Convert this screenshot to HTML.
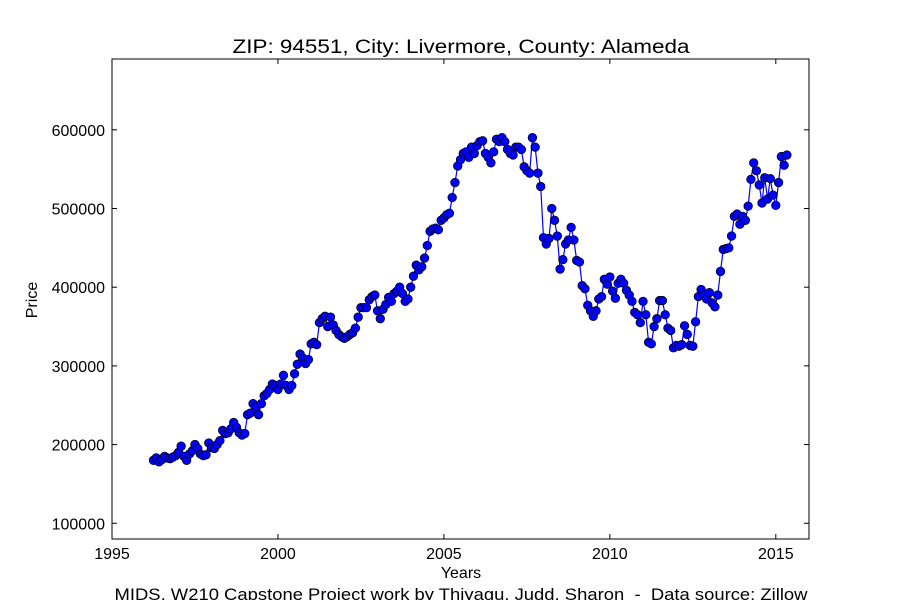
<!DOCTYPE html>
<html><head><meta charset="utf-8"><style>
body{margin:0;background:#fff;font-family:"Liberation Sans",sans-serif}
svg text{font-family:"Liberation Sans",sans-serif;fill:#000}
</style></head><body>
<svg id="chart" width="900" height="600" xmlns="http://www.w3.org/2000/svg">
<rect width="900" height="600" fill="#fff"/>
<text x="461" y="53" font-size="19" text-anchor="middle" textLength="457" lengthAdjust="spacingAndGlyphs">ZIP: 94551, City: Livermore, County: Alameda</text>
<g id="plot"></g>
<rect x="112" y="59" width="697" height="480" fill="none" stroke="#000" stroke-width="1"/>
<g id="axes"></g>
<text x="461" y="578" font-size="16" text-anchor="middle">Years</text>
<text x="37" y="300" font-size="16" text-anchor="middle" transform="rotate(-90 37 300)">Price</text>
<text x="461" y="600" font-size="17" text-anchor="middle" textLength="693" lengthAdjust="spacingAndGlyphs" xml:space="preserve">MIDS, W210 Capstone Project work by Thiyagu, Judd, Sharon  -  Data source: Zillow</text>
</svg>
<script>
const startYear = 1996.25;
const prices = [180,183,178,181,185,183,182,184,186,
190,198,185,180,188,192,200,195,188,186,187,202,
196,195,200,205,218,214,215,220,228,222,215,212,
214,238,240,252,248,238,252,262,265,270,277,275,
270,277,288,275,270,275,290,302,315,310,303,308,
328,330,327,355,360,363,350,362,352,345,340,337,
335,337,340,342,348,362,374,374,374,384,388,390,
370,360,372,378,387,382,392,395,400,392,382,385,
400,414,428,422,426,437,453,471,474,475,473,485,
488,492,494,514,533,554,562,570,572,565,578,570,
580,585,586,570,565,558,572,588,585,590,585,575,
570,568,578,578,575,553,548,545,590,578,545,528,
463,455,462,500,485,465,423,435,455,460,476,460,
434,432,402,398,377,370,363,370,385,388,410,404,
413,395,386,405,410,405,396,390,382,368,365,355,
382,365,330,328,350,360,383,383,365,348,345,323,
326,325,327,351,340,326,325,356,388,397,390,385,
393,380,375,390,420,448,449,450,465,490,493,480,
490,485,503,537,558,548,530,507,539,512,538,
517,504,533,566,555,568];
const xTicks = [1995,2000,2005,2010,2015];
const yTicks = [100000,200000,300000,400000,500000,600000];
const NS="http://www.w3.org/2000/svg";
const X0=112,X1=809,Y0=539,Y1=59,xmin=1995,xmax=2016,ymin=80000,ymax=690000;
const sx=v=>X0+(v-xmin)/(xmax-xmin)*(X1-X0);
const sy=v=>Y0-(v-ymin)/(ymax-ymin)*(Y0-Y1);
const plot=document.getElementById('plot'),axes=document.getElementById('axes');
function mk(t,a,p){const e=document.createElementNS(NS,t);for(const k in a)e.setAttribute(k,a[k]);p.appendChild(e);return e;}
const pts=prices.map((p,i)=>[sx(startYear+i/12),sy(p*1000)]);
const line=mk('polyline',{points:pts.map(p=>p.join(',')).join(' '),fill:'none',stroke:'#0000ff','stroke-width':1.2},plot);


pts.forEach(p=>{const c=mk('circle',{cx:p[0],cy:p[1],r:4.3,fill:'#0000ff',stroke:'#000','stroke-width':0.7},plot);

});
xTicks.forEach(t=>{const x=sx(t);
mk('line',{x1:x,x2:x,y1:Y0,y2:Y0-5,stroke:'#000'},axes);
mk('line',{x1:x,x2:x,y1:Y1,y2:Y1+5,stroke:'#000'},axes);
const tx=mk('text',{x:x,y:Y0+20,'font-size':16,'text-anchor':'middle'},axes);tx.textContent=t;

});
yTicks.forEach(t=>{const y=sy(t);
mk('line',{x1:X0,x2:X0+5,y1:y,y2:y,stroke:'#000'},axes);
mk('line',{x1:X1,x2:X1-5,y1:y,y2:y,stroke:'#000'},axes);
const tx=mk('text',{x:X0-7,y:y+6,'font-size':16,'text-anchor':'end'},axes);tx.textContent=t;

});
</script>
</body></html>
